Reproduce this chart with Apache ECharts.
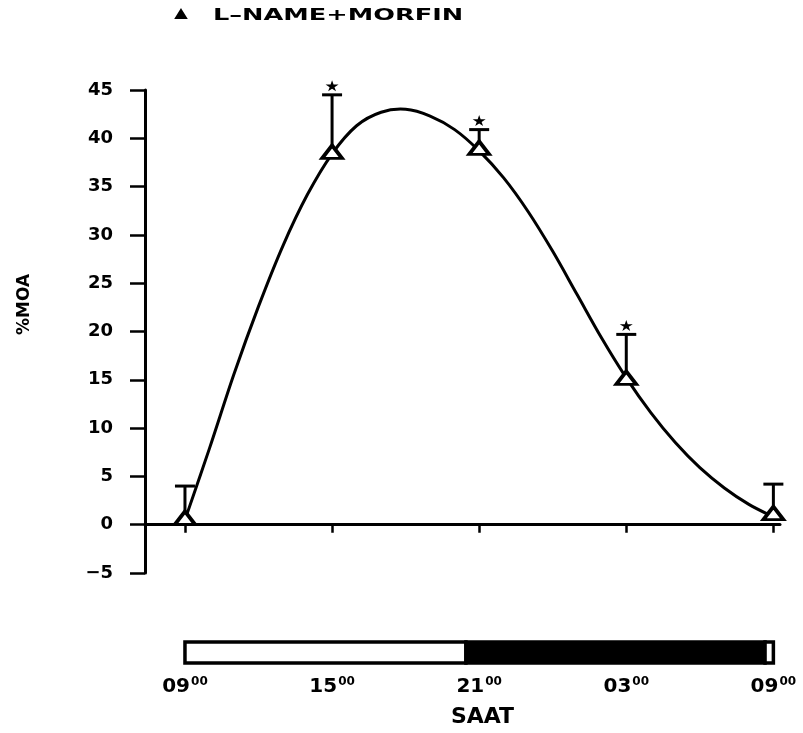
<!DOCTYPE html>
<html>
<head>
<meta charset="utf-8">
<script src="https://cdn.jsdelivr.net/npm/echarts@6/dist/echarts.min.js"></script>
<style>html,body{margin:0;padding:0;background:#fff}#c{width:803px;height:733px}</style>
</head>
<body>
<div id="c"></div>
<script>
// ---- data ----
const seriesName = 'L–NAME+MORFIN';
const yAxisName = '%MOA';
const xAxisName = 'SAAT';
const tickHours = [0, 6, 12, 18, 24];
const tickLabels = ['09', '15', '21', '03', '09'];
const sampleHours = [0, 6, 12, 18, 24];
const meanValues = [0.7, 38.6, 39.0, 15.2, 1.2];
const upperValues = [4.0, 44.5, 40.9, 19.7, 4.2];
const significant = [false, true, true, true, false];
const curveHours = [0,1,2,3,4,5,6,7,8,9,10,11,12,13,14,15,16,17,18,19,20,21,22,23,24];
const curveValues = [0.5,7.9,15.6,22.6,28.9,34.2,38.4,41.3,42.7,43.0,42.3,40.9,38.7,35.9,32.4,28.3,23.8,19.3,15.2,11.6,8.5,5.9,3.8,2.1,0.8];
const periodStart = [0, 11.46, 23.66];
const periodEnd = [11.46, 23.66, 24];
const periodType = ['light', 'dark', 'light'];

// ---- build ----
const FONT = 'DejaVu Sans';
const xMin = -1.63, xMax = 24.27;
const curveData = curveHours.map((h, i) => [h, curveValues[i]]);
const meanData = sampleHours.map((h, i) => [h, meanValues[i]]);
const errData = sampleHours.map((h, i) => [h, meanValues[i], upperValues[i]]);
const starData = sampleHours.map((h, i) => significant[i] ? [h, upperValues[i]] : null).filter(d => d);
const periodData = periodStart.map((s, i) => [s, periodEnd[i], periodType[i] === 'dark' ? 1 : 0]);
const starPath = 'path://M50,0 L61,35 L98,35 L68,57 L79,91 L50,70 L21,91 L32,57 L2,35 L39,35 Z';

// Catmull-Rom path through pixel points given by the axis scales
function splinePath(pts) {
  let d = 'M' + pts[0][0] + ' ' + pts[0][1];
  for (let i = 0; i < pts.length - 1; i++) {
    const p0 = pts[Math.max(i - 1, 0)], p1 = pts[i], p2 = pts[i + 1], p3 = pts[Math.min(i + 2, pts.length - 1)];
    const c1x = p1[0] + (p2[0] - p0[0]) / 6, c1y = p1[1] + (p2[1] - p0[1]) / 6;
    const c2x = p2[0] - (p3[0] - p1[0]) / 6, c2y = p2[1] - (p3[1] - p1[1]) / 6;
    d += ' C' + c1x + ' ' + c1y + ' ' + c2x + ' ' + c2y + ' ' + p2[0] + ' ' + p2[1];
  }
  return d;
}

const chart = echarts.init(document.getElementById('c'), null, {renderer: 'canvas'});
chart.setOption({
  animation: false,
  backgroundColor: '#fff',
  textStyle: {fontFamily: FONT},
  grid: [
    {left: 145, right: 23, top: 90, bottom: 160},
    {left: 145, right: 23, top: 642, height: 21}
  ],
  xAxis: [
    {
      gridIndex: 0, type: 'value', min: xMin, max: xMax,
      axisLine: {onZero: true, lineStyle: {color: '#000', width: 3}},
      axisTick: {show: true, customValues: tickHours, length: 8, lineStyle: {color: '#000', width: 2.5}},
      axisLabel: {show: false},
      splitLine: {show: false}
    },
    {
      gridIndex: 1, type: 'value', min: xMin, max: xMax,
      axisLine: {show: false},
      axisTick: {show: false},
      splitLine: {show: false},
      axisLabel: {
        customValues: tickHours,
        margin: 13,
        formatter: v => '{a|' + tickLabels[tickHours.indexOf(v)] + '}{s|00}',
        rich: {
          a: {fontFamily: FONT, fontWeight: 'bold', fontSize: 20, color: '#000', lineHeight: 19},
          s: {fontFamily: FONT, fontWeight: 'bold', fontSize: 12, color: '#000', verticalAlign: 'top', padding: [0, 0, 9, 1]}
        }
      },
      name: xAxisName, nameLocation: 'middle', nameGap: 43,
      nameTextStyle: {fontFamily: FONT, fontWeight: 'bold', fontSize: 22, color: '#000', padding: [0, 0, 0, 40]}
    }
  ],
  yAxis: [
    {
      gridIndex: 0, type: 'value', min: -5, max: 45, interval: 5,
      axisLine: {show: true, onZero: false, lineStyle: {color: '#000', width: 3}},
      axisTick: {show: true, length: 15, lineStyle: {color: '#000', width: 2.5}},
      axisLabel: {margin: 32, fontFamily: FONT, fontWeight: 'bold', fontSize: 18, color: '#000',
        formatter: v => String(v).replace('-', '−')},
      splitLine: {show: false},
      name: yAxisName, nameLocation: 'middle', nameGap: 112,
      nameTextStyle: {fontFamily: FONT, fontWeight: 'bold', fontSize: 17, color: '#000', padding: [0, 0, 0, 54]}
    },
    {
      gridIndex: 1, type: 'value', min: 0, max: 1, show: false
    }
  ],
  graphic: [{
    type: 'group', left: 175, top: 8,
    children: [
      {type: 'polygon', shape: {points: [[5, 0], [10, 8], [0, 8]]}, style: {fill: '#000', stroke: '#000', lineWidth: 2}, y: 2},
      {type: 'text', x: 37, y: 0, scaleX: 1.6, style: {text: seriesName, fontFamily: FONT, fontWeight: 'bold', fontSize: 16, fill: '#000'}}
    ]
  }],
  series: [
    {
      type: 'custom', xAxisIndex: 0, yAxisIndex: 0, data: curveData, z: 2, clip: false,
      renderItem: (params, api) => {
        if (params.dataIndex !== 0) return null;
        const pts = curveData.map(d => api.coord(d));
        return {type: 'path', shape: {pathData: splinePath(pts)},
          style: {stroke: '#000', lineWidth: 3, fill: 'none'}};
      }
    },
    {
      type: 'custom', xAxisIndex: 0, yAxisIndex: 0, data: errData, z: 3,
      renderItem: (params, api) => {
        const p1 = api.coord([api.value(0), api.value(1)]);
        const p2 = api.coord([api.value(0), api.value(2)]);
        return {type: 'group', children: [
          {type: 'line', shape: {x1: p1[0], y1: p1[1], x2: p2[0], y2: p2[1]}, style: {stroke: '#000', lineWidth: 3}},
          {type: 'line', shape: {x1: p2[0] - 10, y1: p2[1], x2: p2[0] + 10, y2: p2[1]}, style: {stroke: '#000', lineWidth: 3}}
        ]};
      }
    },
    {
      type: 'scatter', xAxisIndex: 0, yAxisIndex: 0, data: meanData, z: 4,
      symbol: 'triangle', symbolSize: [20, 13],
      itemStyle: {color: '#fff', borderColor: '#000', borderWidth: 3.5, opacity: 1}
    },
    {
      type: 'scatter', xAxisIndex: 0, yAxisIndex: 0, data: starData, z: 4,
      symbol: starPath, symbolSize: [13, 11], symbolOffset: [0, -9],
      itemStyle: {color: '#000', opacity: 1}
    },
    {
      type: 'custom', xAxisIndex: 1, yAxisIndex: 1, data: periodData,
      renderItem: (params, api) => {
        const a = api.coord([api.value(0), 1]);
        const b = api.coord([api.value(1), 0]);
        return {type: 'rect', shape: {x: a[0], y: a[1], width: b[0] - a[0], height: b[1] - a[1]},
          style: {fill: api.value(2) ? '#000' : '#fff', stroke: '#000', lineWidth: 3.5}};
      }
    }
  ]
});
</script>
</body>
</html>
